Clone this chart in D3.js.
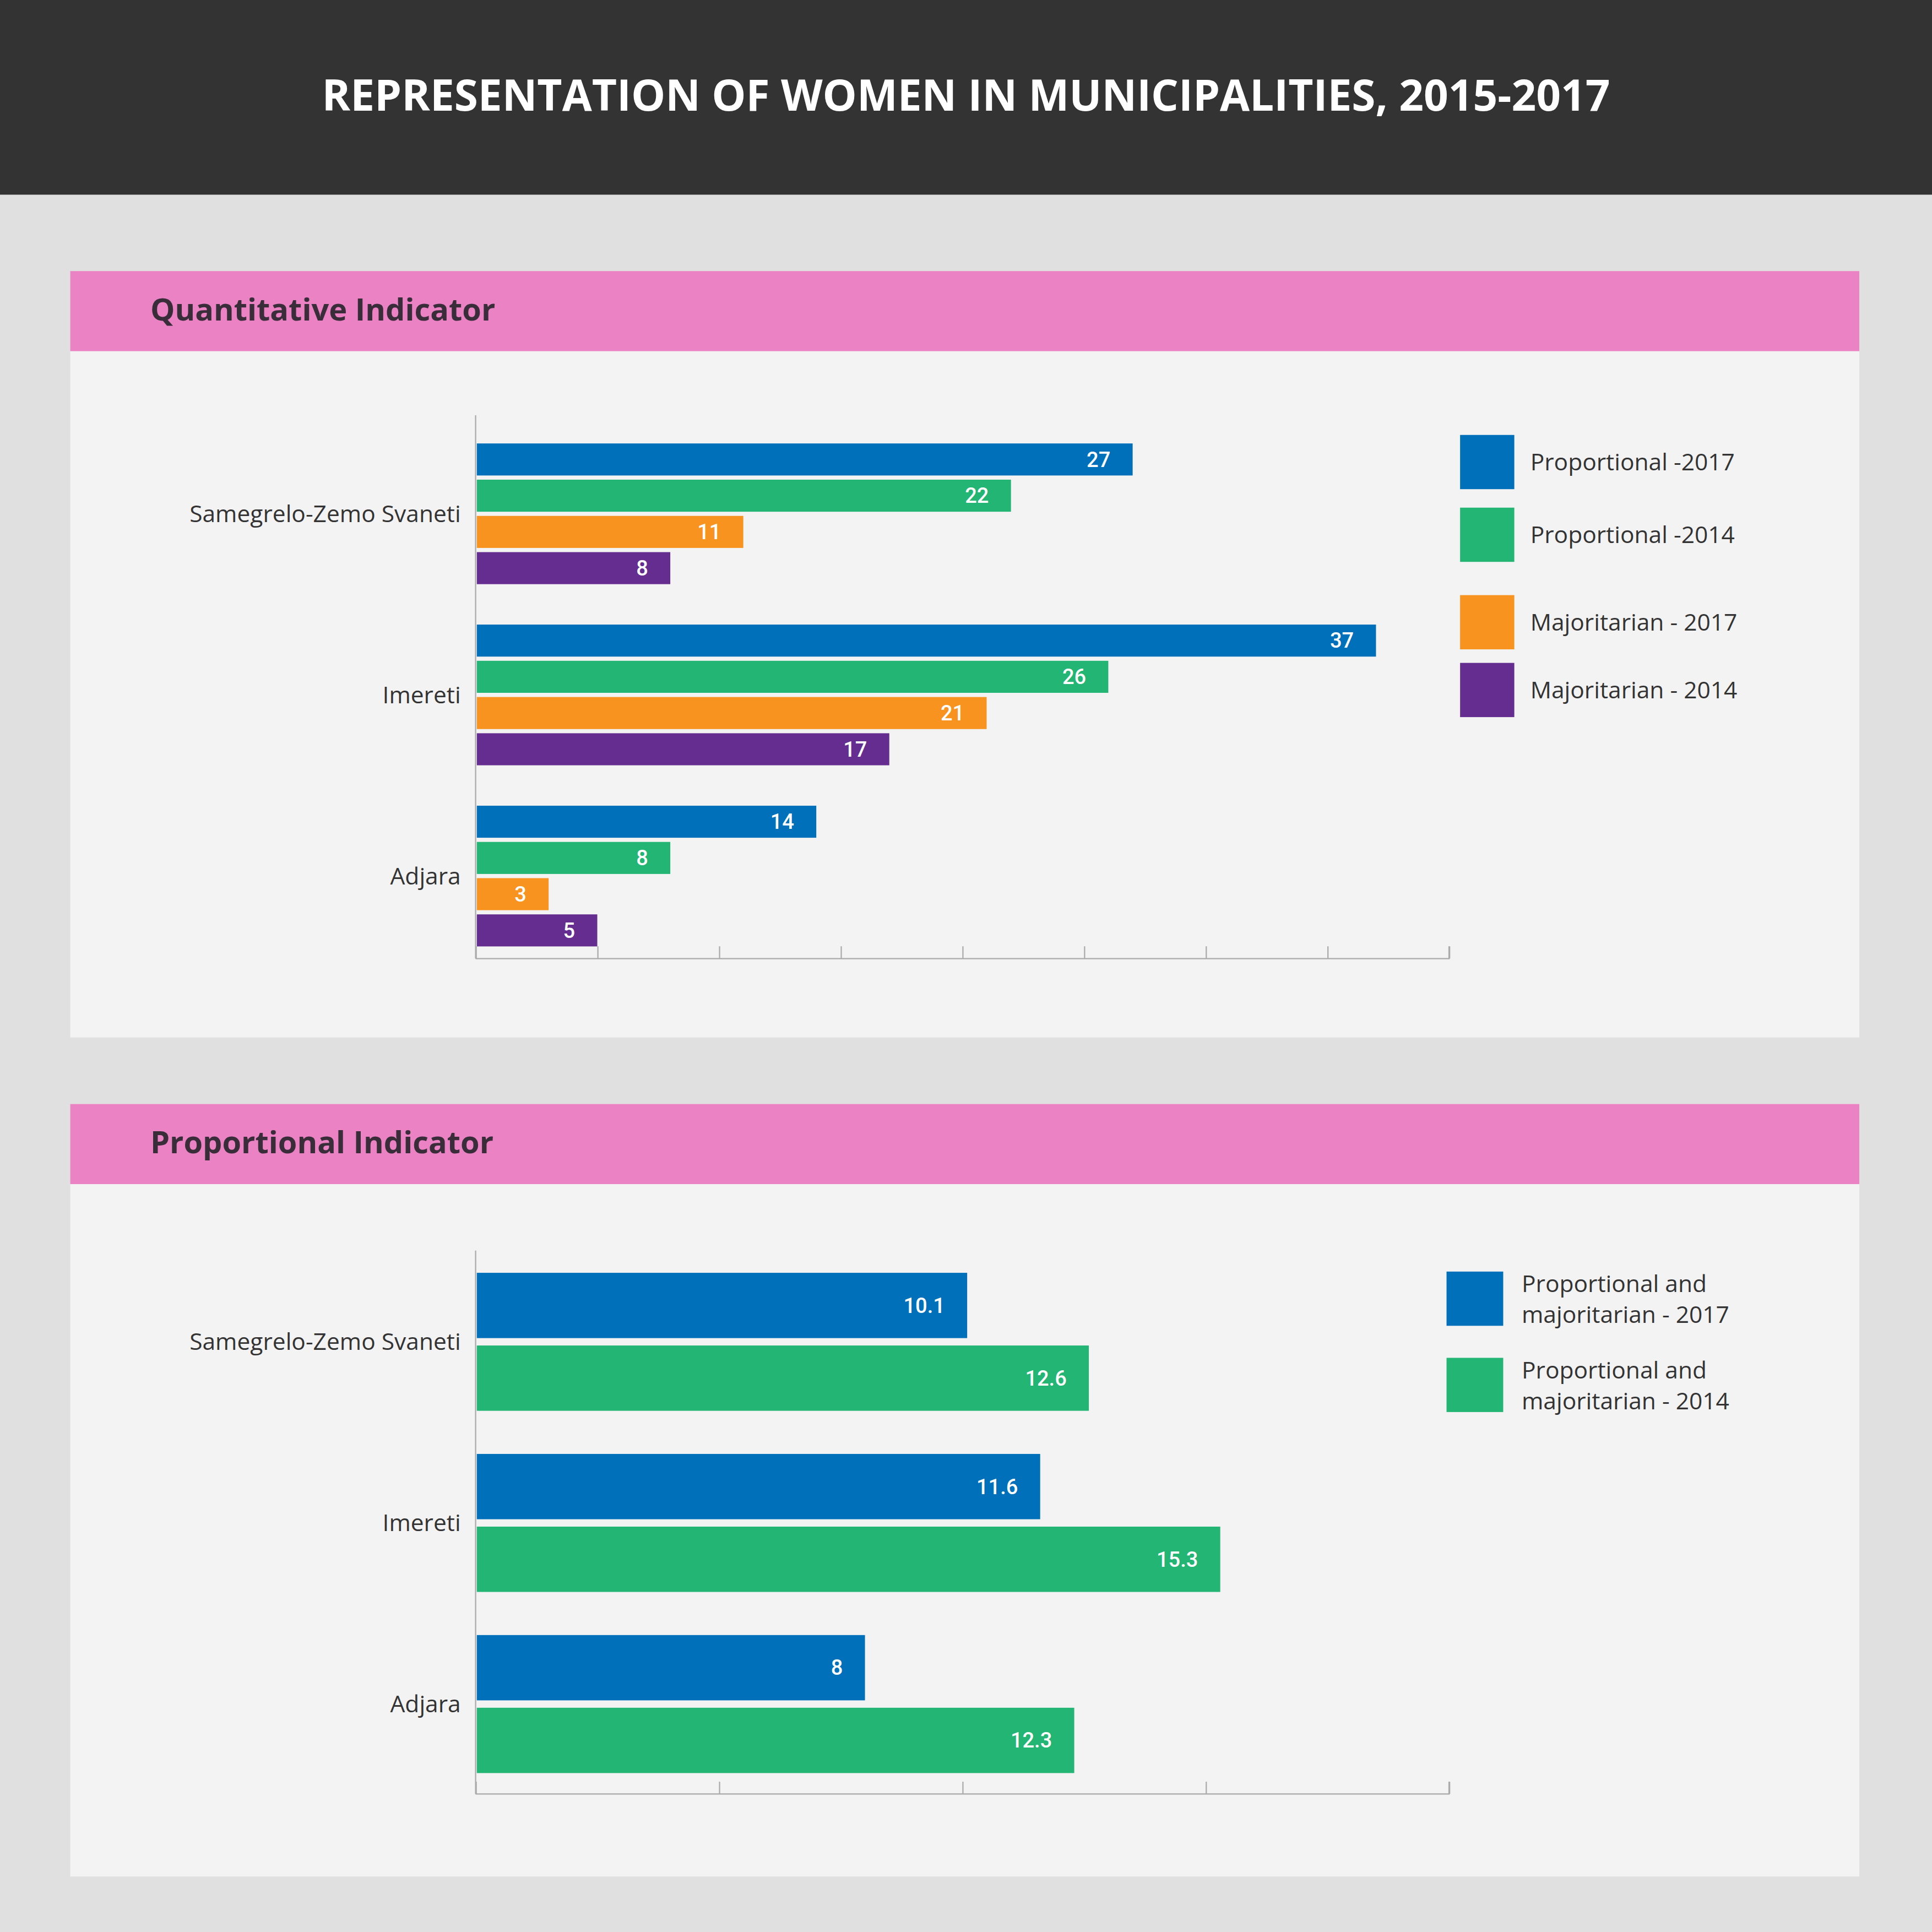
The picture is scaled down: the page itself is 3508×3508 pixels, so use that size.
<!DOCTYPE html>
<html><head><meta charset="utf-8">
<script src="https://cdn.jsdelivr.net/npm/d3@7"></script>
<style>body{margin:0;background:#e0e0e0}svg{display:block}</style>
</head><body>
<script>
// data ---------------------------------------------------------------
const regions = ["Samegrelo-Zemo Svaneti", "Imereti", "Adjara"];
const quantSeries = ["Proportional -2017", "Proportional -2014", "Majoritarian - 2017", "Majoritarian - 2014"];
const quantValues = [
  [27, 22, 11, 8],
  [37, 26, 21, 17],
  [14, 8, 3, 5]
];
const propSeries = [["Proportional and", "majoritarian - 2017"], ["Proportional and", "majoritarian - 2014"]];
const propValues = [
  [10.1, 12.6],
  [11.6, 15.3],
  [8, 12.3]
];
const colors = ["#0070bb", "#22b573", "#f7931e", "#662d91"];

const S = 1568;
const svg = d3.select('body').append('svg')
  .attr('width', 3508).attr('height', 3508)
  .attr('viewBox', `0 0 ${S} ${S}`)
  .style('font-family', '"Open Sans", sans-serif');

svg.append('rect').attr('width', S).attr('height', S).attr('fill', '#e0e0e0');
svg.append('rect').attr('width', S).attr('height', 158).attr('fill', '#333333');
svg.append('text').attr('x', S / 2).attr('y', 90).attr('text-anchor', 'middle')
  .attr('fill', '#fff').attr('font-size', 35).attr('font-weight', 'bold')
  .text('REPRESENTATION OF WOMEN IN MUNICIPALITIES, 2015-2017');

function panel(top, bottom, title) {
  svg.append('rect').attr('x', 57).attr('y', top).attr('width', 1452).attr('height', bottom - top).attr('fill', '#f3f3f3');
  svg.append('rect').attr('x', 57).attr('y', top).attr('width', 1452).attr('height', 65).attr('fill', '#ea82c3');
  svg.append('text').attr('x', 122).attr('y', top + 40).attr('font-size', 25).attr('font-weight', 'bold')
    .attr('fill', '#3a2d3a').text(title);
}

function chart(opts) {
  const { axisY, axisTop, max, values, barH, step, centers, fmt } = opts;
  const x = d3.scaleLinear().domain([0, max]).range([386, 1176]);
  const y = d3.scalePoint().domain(regions).range([centers[0], centers[2]]);
  const g = svg.append('g');

  g.append('g').attr('transform', `translate(0,${axisY})`)
    .call(d3.axisBottom(x).ticks(max / 5).tickSize(-10).tickFormat(''))
    .call(s => s.selectAll('line,path').attr('stroke', '#aaa'))
    .call(s => s.select('.domain').attr('d', `M386,0H1176V-10`));
  g.append('line').attr('x1', 386).attr('x2', 386).attr('y1', axisTop).attr('y2', axisY).attr('stroke', '#aaa');

  regions.forEach((r, ri) => {
    const n = values[ri].length;
    const gg = g.append('g');
    gg.selectAll('rect').data(values[ri]).join('rect')
      .attr('x', x(0) + 1)
      .attr('y', (d, i) => y(r) + (i - n / 2) * step + (step - barH) / 2)
      .attr('width', d => x(d) - x(0) - 1).attr('height', barH)
      .attr('fill', (d, i) => colors[i]);
    gg.selectAll('text').data(values[ri]).join('text')
      .attr('x', d => x(d) - 18).attr('y', (d, i) => y(r) + (i - n / 2 + 0.5) * step)
      .attr('dy', '0.35em').attr('text-anchor', 'end').attr('fill', '#fff')
      .attr('font-family', 'Roboto, sans-serif').attr('font-size', 17).attr('font-weight', 500)
      .text(fmt);
    g.append('text').attr('x', 374).attr('y', y(r)).attr('dy', '0.35em').attr('text-anchor', 'end')
      .attr('font-size', 19).attr('fill', '#333').text(r);
  });
}

// panel 1
panel(220, 842, 'Quantitative Indicator');
chart({ axisY: 778, axisTop: 337, max: 40, values: quantValues, barH: 26, step: 29.4, centers: [417, 564, 711], fmt: d => d });
const leg1Y = [353, 412, 483, 538];
quantSeries.forEach((s, i) => {
  svg.append('rect').attr('x', 1185).attr('y', leg1Y[i]).attr('width', 44).attr('height', 44).attr('fill', colors[i]);
  svg.append('text').attr('x', 1242).attr('y', leg1Y[i] + 22).attr('dy', '0.35em')
    .attr('font-size', 19).attr('fill', '#333').text(s);
});

// panel 2
panel(896, 1523, 'Proportional Indicator');
chart({ axisY: 1456, axisTop: 1015, max: 20, values: propValues, barH: 53, step: 59, centers: [1089, 1236, 1383], fmt: d => d });
const leg2Y = [1032, 1102];
propSeries.forEach((s, i) => {
  svg.append('rect').attr('x', 1174).attr('y', leg2Y[i]).attr('width', 46).attr('height', 44).attr('fill', colors[i]);
  s.forEach((line, li) => {
    svg.append('text').attr('x', 1235).attr('y', leg2Y[i] + 10 + li * 25).attr('dy', '0.35em')
      .attr('font-size', 19).attr('fill', '#333').text(line);
  });
});
</script>
</body></html>
